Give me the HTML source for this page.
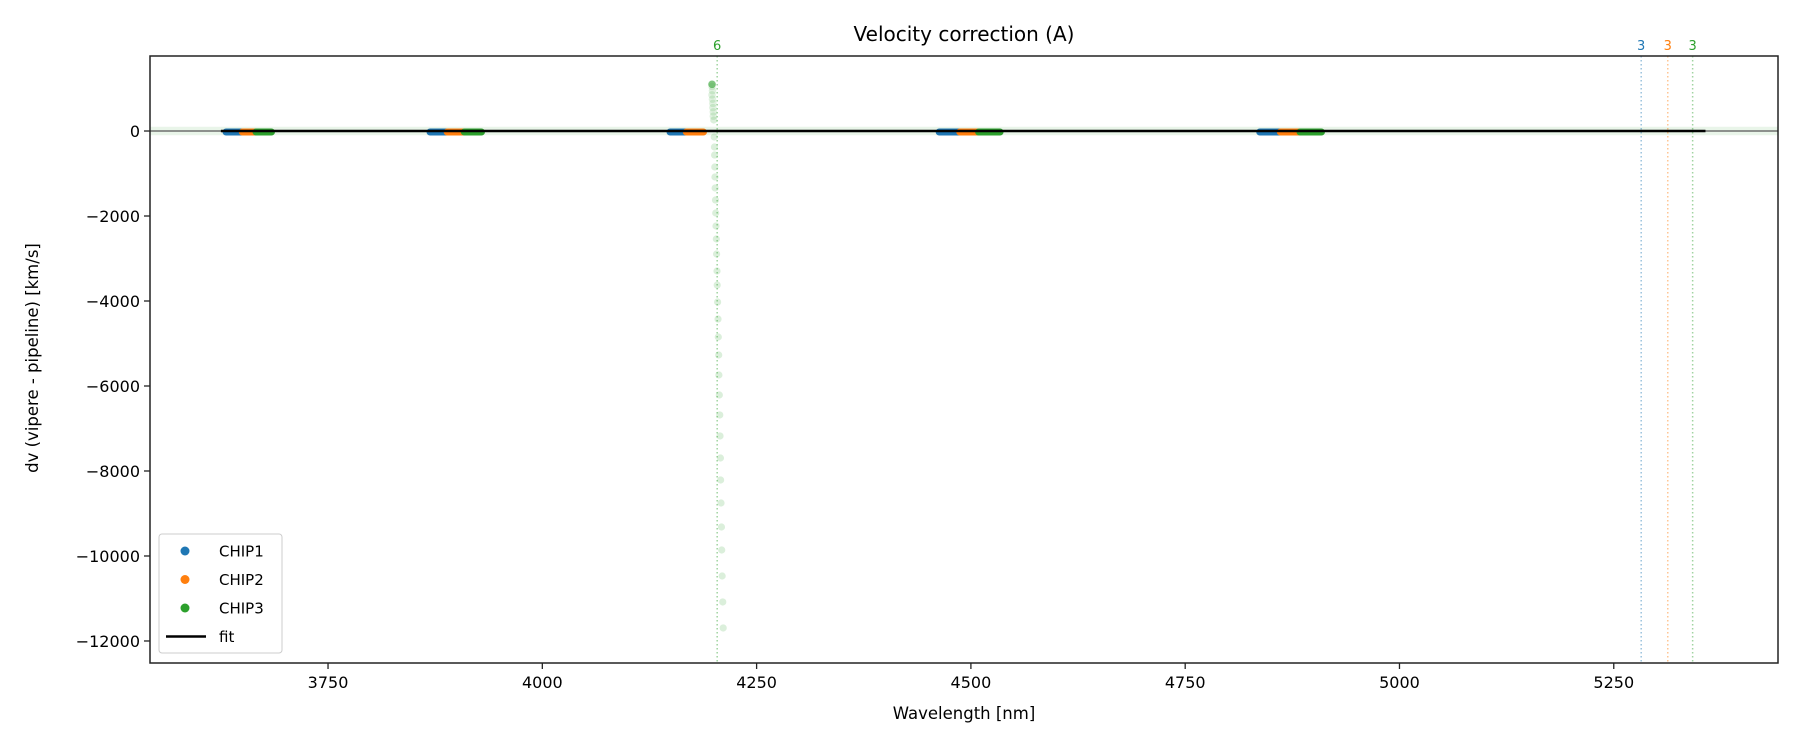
<!DOCTYPE html>
<html><head><meta charset="utf-8"><style>
body{margin:0;background:#fff;}
svg text{font-family:"DejaVu Sans","Liberation Sans",sans-serif;fill:#000;}
</style></head><body>
<svg id="chart" width="1800" height="750" xmlns="http://www.w3.org/2000/svg">
<rect width="1800" height="750" fill="#fff"/>
<text x="964" y="41" font-size="20" text-anchor="middle">Velocity correction (A)</text>
<g id="plot"></g>
<text x="964" y="719" font-size="16.5" text-anchor="middle">Wavelength [nm]</text>
<text transform="translate(38,358) rotate(-90)" font-size="16.5" text-anchor="middle">dv (vipere - pipeline) [km/s]</text>
</svg>
<script>
const xTicks=[3750,4000,4250,4500,4750,5000,5250];
const yTicks=[0,-2000,-4000,-6000,-8000,-10000,-12000];
const chip1Ranges=[[3631,3650],[3869,3889],[4149,4168],[4463,4487],[4837,4861]];
const chip2Ranges=[[3650,3666],[3889,3909],[4168,4188],[4487,4509],[4861,4884]];
const chip3Ranges=[[3666,3684],[3909,3929],[4509,4534],[4884,4909]];
const outlierW=[4200,4200.5,4200.8,4201,4201.2,4201.4,4201.6,4202,4202.3,4202.6,4203,4203.3,4203.8,4204,4204.5,4205,4205.3,4205.8,4206,4206.5,4207,4207.3,4207.8,4208,4208.5,4209,4209.3,4209.8,4210.5,4211];
const outlierV=[259,-141,-376,-565,-847,-1082,-1341,-1624,-1929,-2235,-2541,-2894,-3294,-3624,-4024,-4424,-4847,-5271,-5741,-6212,-6682,-7176,-7694,-8212,-8753,-9318,-9859,-10471,-11082,-11694];
const highW=[4198,4198,4198.5,4198,4198.5,4199,4199,4199.5,4199.5];
const highV=[1100,1050,950,850,750,650,550,450,350];
const markLines=[{w:4204,label:"6",c:"#2ca02c"},{w:5282,label:"3",c:"#1f77b4"},{w:5313,label:"3",c:"#ff7f0e"},{w:5342,label:"3",c:"#2ca02c"}];
const fitRange=[3625,5357];
const bandHalf=100;

const L=150,R=1778,T=56,B=663;
const xMin=3542.3,xMax=5441.6,yMin=-12518,yMax=1765;
const X=w=>L+(w-xMin)/(xMax-xMin)*(R-L);
const Y=v=>T+(yMax-v)/(yMax-yMin)*(B-T);
const NS="http://www.w3.org/2000/svg";
const g=document.getElementById('plot');
function mk(tag,attrs,parent){const e=document.createElementNS(NS,tag);for(const k in attrs)e.setAttribute(k,attrs[k]);(parent||g).appendChild(e);return e;}

let band=mk('rect',{x:L,y:Y(bandHalf),width:R-L,height:Y(-bandHalf)-Y(bandHalf),fill:'#2ca02c','fill-opacity':0.1});


let zl=mk('line',{x1:L,x2:R,y1:Y(0),y2:Y(0),stroke:'#555','stroke-width':1.2});



markLines.forEach(m=>{
  const ln=mk('line',{x1:X(m.w),x2:X(m.w),y1:T,y2:B,stroke:m.c,'stroke-opacity':0.45,'stroke-width':1.5,'stroke-dasharray':'1.5,2.5'});
  
  
  const t=mk('text',{x:X(m.w),y:T-6,'font-size':13,'text-anchor':'middle',style:'fill:'+m.c});
  t.textContent=m.label;
  
  
});

outlierW.forEach((w,i)=>{
  const c=mk('circle',{cx:X(w),cy:Y(outlierV[i]),r:3.6,fill:'#2ca02c','fill-opacity':0.17});
  
  
});
highW.forEach((w,i)=>{
  const c=mk('circle',{cx:X(w),cy:Y(highV[i]),r:3.8,fill:'#2ca02c','fill-opacity':i==0?0.6:0.15});
  
  
});

function cluster(ranges,color,name){
  ranges.forEach(r=>{
    const seg=mk('line',{x1:X(r[0]),x2:X(r[1]),y1:Y(0)+1,y2:Y(0)+1,stroke:color,'stroke-width':7,'stroke-linecap':'round'});
    
    
  });
}
cluster(chip1Ranges,'#1f77b4','chip1-points');
cluster(chip2Ranges,'#ff7f0e','chip2-points');
cluster(chip3Ranges,'#2ca02c','chip3-points');

let fit=mk('line',{x1:X(fitRange[0]),x2:X(fitRange[1]),y1:Y(0),y2:Y(0),stroke:'#000','stroke-width':2.5});



let fr=mk('rect',{x:L,y:T,width:R-L,height:B-T,fill:'none',stroke:'#222','stroke-width':1.5});



xTicks.forEach(v=>{
  const x=X(v);
  const tk=mk('line',{x1:x,x2:x,y1:B,y2:B+6,stroke:'#222','stroke-width':1.3});
  
  
  const t=mk('text',{x:x,y:B+25,'font-size':16,'text-anchor':'middle'});
  t.textContent=v;
  
  
});
yTicks.forEach(v=>{
  const y=Y(v);
  const tk=mk('line',{x1:L-6,x2:L,y1:y,y2:y,stroke:'#222','stroke-width':1.3});
  
  
  const t=mk('text',{x:L-10,y:y+6,'font-size':16,'text-anchor':'end'});
  t.textContent=v<0?'\u2212'+Math.abs(v):v;
  
  
});

const lg=mk('g',{});


mk('rect',{x:159,y:534,width:123,height:119,rx:3,fill:'#fff','fill-opacity':0.8,stroke:'#ccc','stroke-width':1},lg);
const legNames=['CHIP1','CHIP2','CHIP3','fit'];
const legColors=['#1f77b4','#ff7f0e','#2ca02c','#000'];
legNames.forEach((n,i)=>{
  const y=551+i*28.5;
  const e=mk('g',{},lg);
  
  
  if(n==='fit') mk('line',{x1:166,x2:206,y1:y,y2:y,stroke:'#000','stroke-width':2.5},e);
  else mk('circle',{cx:185,cy:y,r:4.5,fill:legColors[i]},e);
  const t=mk('text',{x:219,y:y+5.5,'font-size':15},e);
  t.textContent=n;
});
</script>
</body></html>
